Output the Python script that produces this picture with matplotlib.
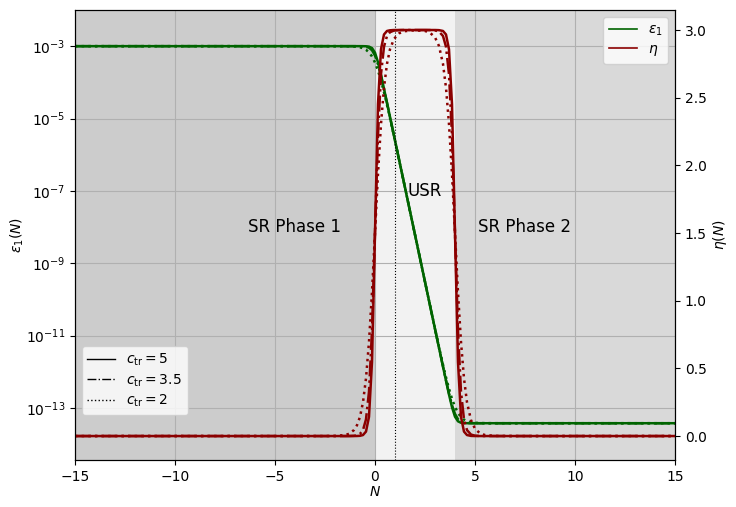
import matplotlib
matplotlib.use('Agg')
import matplotlib.pyplot as plt
import numpy as np
from matplotlib.lines import Line2D
from matplotlib.ticker import FixedLocator, NullLocator

# 数据: e-folds N, log10(eps_1) 和 eta, 三个 c_tr 值
N = [-15.0, -2.5, -2.0, -1.5, -1.3, -1.05, -0.9, -0.75, -0.6, -0.45, -0.3, -0.15,
     0.0, 0.15, 0.3, 0.45, 0.6, 0.75, 0.95, 1.2, 1.45, 2.0, 2.5, 2.75, 3.0, 3.2,
     3.4, 3.55, 3.7, 3.85, 4.0, 4.15, 4.3, 4.45, 4.6, 4.8, 5.0, 5.25, 5.5, 6.0,
     7.0, 15.0]

log_eps_c5 = [-3.0, -3.0, -3.0, -3.0, -3.0, -3.0, -3.0, -3.0001, -3.0006, -3.0029,
              -3.0127, -3.0525, -3.1806, -3.4434, -3.7944, -4.1755, -4.5641,
              -4.9545, -5.4755, -6.127, -6.7784, -8.2116, -9.5145, -10.166,
              -10.817, -11.3385, -11.8591, -12.2477, -12.6287, -12.9798, -13.2425,
              -13.3706, -13.4104, -13.4202, -13.4225, -13.4232, -13.4232, -13.4232,
              -13.4232, -13.4232, -13.4232, -13.4232]
log_eps_c35 = [-3.0, -3.0, -3.0, -3.0, -3.0, -3.0002, -3.0007, -3.0019, -3.0055,
               -3.0156, -3.043, -3.1117, -3.258, -3.5026, -3.8248, -4.1883, -4.569,
               -4.9563, -5.476, -6.127, -6.7784, -8.2116, -9.5146, -10.1658,
               -10.8171, -11.3373, -11.8543, -12.2351, -12.5986, -12.9208, -13.1654,
               -13.3117, -13.3804, -13.4078, -13.4178, -13.4218, -13.4229, -13.4232,
               -13.4232, -13.4232, -13.4232, -13.4232]
log_eps_c2 = [-3.0, -3.0, -3.0002, -3.0016, -3.0036, -3.0097, -3.0176, -3.0317,
              -3.0566, -3.0997, -3.1715, -3.285, -3.4516, -3.6759, -3.9533, -4.2723,
              -4.6201, -4.986, -5.4899, -6.1323, -6.7804, -8.2116, -9.5129, -10.1616,
              -10.8056, -11.3125, -11.8031, -12.1509, -12.4699, -12.7473, -12.9716,
              -13.1382, -13.2517, -13.3235, -13.3666, -13.3971, -13.4113, -13.4188,
              -13.4216, -13.423, -13.4232, -13.4232]

eta_c5 = [0.0, 0.0, 0.0, 0.0, 0.0, 0.0, 0.0004, 0.0017, 0.0074, 0.033, 0.142, 0.547,
          1.5, 2.453, 2.858, 2.967, 2.993, 2.998, 3.0, 3.0, 3.0, 3.0, 3.0, 3.0, 3.0,
          2.999, 2.993, 2.967, 2.858, 2.453, 1.5, 0.547, 0.142, 0.033, 0.0074, 0.001,
          0.0, 0.0, 0.0, 0.0, 0.0, 0.0]
eta_c35 = [0.0, 0.0, 0.0, 0.0, 0.0003, 0.0019, 0.0055, 0.0157, 0.0444, 0.123, 0.327,
           0.778, 1.5, 2.222, 2.673, 2.877, 2.956, 2.984, 2.996, 2.999, 3.0, 3.0, 3.0,
           2.9995, 2.997, 2.989, 2.956, 2.877, 2.673, 2.222, 1.5, 0.778, 0.327, 0.123,
           0.044, 0.011, 0.0027, 0.0005, 0.0, 0.0, 0.0, 0.0]
eta_c2 = [0.0, 0.0001, 0.001, 0.0074, 0.0164, 0.0444, 0.08, 0.142, 0.25, 0.426, 0.695,
          1.063, 1.5, 1.937, 2.305, 2.574, 2.75, 2.858, 2.934, 2.975, 2.991, 2.998,
          2.993, 2.98, 2.946, 2.882, 2.75, 2.574, 2.305, 1.937, 1.5, 1.063, 0.695,
          0.426, 0.25, 0.118, 0.054, 0.02, 0.0074, 0.001, 0.0, 0.0]

c_tr_labels = ['5', '3.5', '2']
line_styles = ['-', '-.', ':']
eps_series = [log_eps_c5, log_eps_c35, log_eps_c2]
eta_series = [eta_c5, eta_c35, eta_c2]

# 区域边界
sr1 = (-15, 0)
usr = (0, 4)
sr2 = (4, 15)

fig = plt.figure(figsize=(7.36, 5.07), dpi=100)
ax1 = fig.add_axes([0.1019, 0.0927, 0.8152, 0.8876])

# 背景阴影
ax1.axvspan(*sr1, color='#cccccc', zorder=0, lw=0)
ax1.axvspan(*usr, color='#f2f2f2', zorder=0, lw=0)
ax1.axvspan(*sr2, color='#d9d9d9', zorder=0, lw=0)

for ls, le in zip(line_styles, eps_series):
    ax1.plot(N, 10 ** np.array(le), color='darkgreen', ls=ls, lw=1.8)

ax1.axvline(1, color='black', ls=':', lw=0.8)

ax1.set_yscale('log')
ax1.set_xlim(-15, 15)
ax1.set_ylim(10 ** -14.44, 1e-2)
ax1.yaxis.set_major_locator(FixedLocator([1e-13, 1e-11, 1e-9, 1e-7, 1e-5, 1e-3]))
ax1.yaxis.set_minor_locator(NullLocator())
ax1.set_xlabel('$N$', labelpad=1)
ax1.set_ylabel(r'$\epsilon_1(N)$', labelpad=0)
ax1.grid(True, color='#b0b0b0', lw=0.8)

ax1.text(-4, 1e-8, 'SR Phase 1', fontsize=12, ha='center', va='center')
ax1.text(2.5, 1e-7, 'USR', fontsize=12, ha='center', va='center')
ax1.text(7.5, 1e-8, 'SR Phase 2', fontsize=12, ha='center', va='center')

ax2 = ax1.twinx()
for ls, et in zip(line_styles, eta_series):
    ax2.plot(N, et, color='darkred', ls=ls, lw=1.8)
ax2.set_ylim(-0.177, 3.148)
ax2.set_yticks([0.0, 0.5, 1.0, 1.5, 2.0, 2.5, 3.0])
ax2.set_ylabel(r'$\eta(N)$', labelpad=3)

# 图例
leg1 = ax2.legend(handles=[Line2D([0], [0], color='darkgreen', lw=1.2, label=r'$\epsilon_1$'),
                           Line2D([0], [0], color='darkred', lw=1.2, label=r'$\eta$')],
                  loc='upper right', fontsize=10, labelspacing=0.3)
ax2.add_artist(leg1)
ax2.legend(handles=[Line2D([0], [0], color='black', ls=ls, lw=1.0,
                           label=r'$c_{\rm tr} = %s$' % c)
                    for ls, c in zip(line_styles, c_tr_labels)],
           loc='lower left', bbox_to_anchor=(0.0, 0.085),
           fontsize=10, labelspacing=0.3)

fig.savefig('out.png', dpi=100)
